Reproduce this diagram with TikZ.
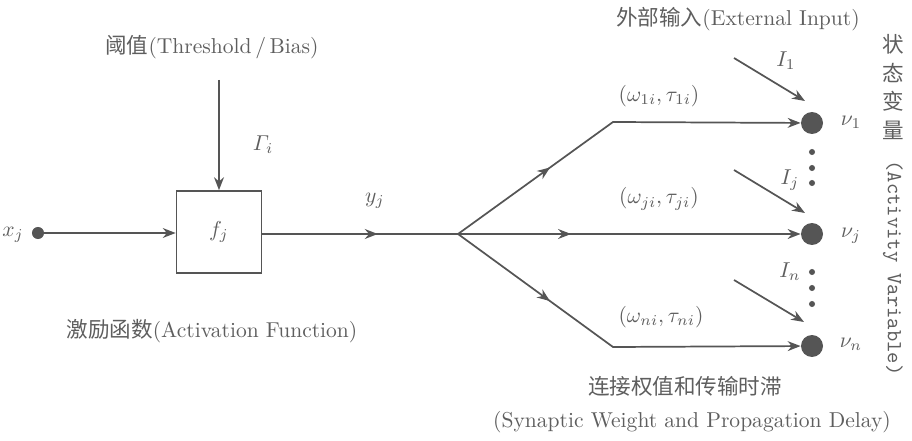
\documentclass[tikz,border=0pt]{standalone}
\usepackage{amsmath}
\usepackage{amssymb}
\usepackage{xcolor}
\usepackage{fontspec}
\usepackage{tikz}
\usetikzlibrary{arrows.meta,positioning,calc,decorations.markings}
\newfontfamily\cjk{Noto Sans CJK SC}
\definecolor{linegray}{HTML}{555555}
\definecolor{inkgray}{HTML}{5E5E5E}

\begin{document}
\begin{tikzpicture}[
    x=0.464pt, y=-0.464pt,
    every node/.append style={text=inkgray},
    link/.style={color=linegray, line width=0.8pt},
    arrow/.style={link, -{Stealth[length=6pt,width=4.6pt]}},
    midarrow/.style={postaction={decorate}, decoration={markings, mark=at position #1 with {\arrow{Stealth[length=6pt,width=4.6pt]}}}},
    neuron/.style={circle, fill=linegray, inner sep=0pt, minimum size=10.2pt},
    input/.style={circle, fill=linegray, inner sep=0pt, minimum size=5.6pt},
    dotty/.style={circle, fill=linegray, inner sep=0pt, minimum size=2.8pt},
    fbox/.style={rectangle, draw=linegray, line width=0.8pt, minimum width=39.4pt, minimum height=38pt}
]

\useasboundingbox (0,0) rectangle (912,441);

\node[input] (xin) at (38,233) {};
\node (xlab) at (13,235) {$x_j$};
\node[fbox] (fj) at (219,232) {$f_j$};
\node (thr) at (212,47) {{\cjk 阈值}(Threshold\,/\,Bias)};
\coordinate (gin) at (219,80);
\node (gam) at (263,145) {$\varGamma_i$};
\node (act) at (212,331) {{\cjk 激励函数}(Activation Function)};

\coordinate (branch) at (458,234);
\coordinate (bend1) at (613,122);
\coordinate (bend2) at (613,347);
\node (ylab) at (375,201) {$y_j$};

\node[neuron] (v1) at (812,123) {};
\node[neuron] (vj) at (812,234) {};
\node[neuron] (vn) at (812,346) {};
\node (v1lab) at (851,122) {$\nu_1$};
\node (vjlab) at (851,236) {$\nu_j$};
\node (vnlab) at (851,344) {$\nu_n$};

\node[dotty] (d1) at (812,152) {};
\node[dotty] (d2) at (812,168) {};
\node[dotty] (d3) at (812,183) {};
\node[dotty] (d4) at (812,272) {};
\node[dotty] (d5) at (812,288) {};
\node[dotty] (d6) at (812,304) {};

\node (w1) at (659,96) {$(\omega_{1i}, \tau_{1i})$};
\node (wj) at (659,199) {$(\omega_{ji}, \tau_{ji})$};
\node (wn) at (661,317) {$(\omega_{ni}, \tau_{ni})$};

\node (ext) at (738,19) {{\cjk 外部输入}(External Input)};
\coordinate (i1a) at (734,58);
\coordinate (i1b) at (805,101);
\coordinate (ija) at (734,170);
\coordinate (ijb) at (805,213);
\coordinate (ina) at (734,280);
\coordinate (inb) at (804,322);
\node (i1lab) at (786,61) {$I_1$};
\node (ijlab) at (790,180) {$I_j$};
\node (inlab) at (790,272) {$I_n$};

\node[align=center, font=\cjk] (state) at (893,87) {状\\[1.2pt]态\\[1.2pt]变\\[1.2pt]量};
\node[rotate=-90, font=\ttfamily] (actvar) at (893,268) {(Activity Variable)};

\node (syn) at (685,386) {\cjk 连接权值和传输时滞};
\node (syneng) at (692,422) {(Synaptic Weight and Propagation Delay)};

\draw[arrow] (xin) -- (fj.west |- xin);
\draw[arrow] (gin) -- (fj);
\draw[link, midarrow=0.59] (fj.east |- branch) -- (branch);
\draw[arrow, midarrow=0.3] (branch) -- (bend1) -- (v1);
\draw[arrow, midarrow=0.33] (branch) -- (vj);
\draw[arrow, midarrow=0.3] (branch) -- (bend2) -- (vn);
\draw[arrow] (i1a) -- (i1b);
\draw[arrow] (ija) -- (ijb);
\draw[arrow] (ina) -- (inb);

\end{tikzpicture}
\end{document}
